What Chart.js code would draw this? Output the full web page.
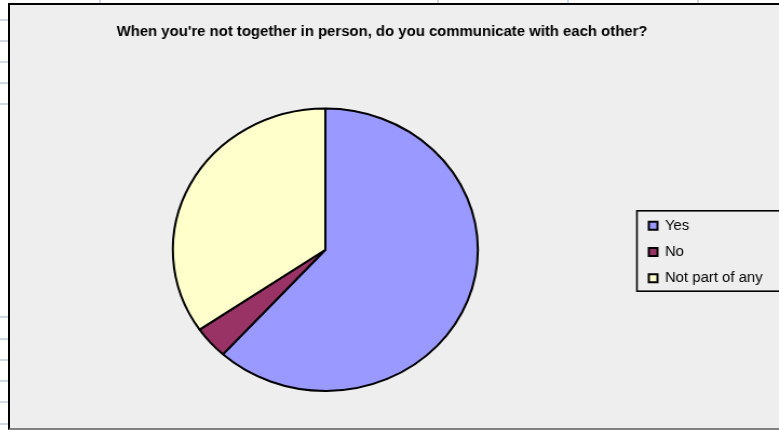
<!DOCTYPE html>
<html>
<head>
<meta charset="utf-8">
<script src="https://cdn.jsdelivr.net/npm/chart.js@4/dist/chart.umd.min.js"></script>
<style>
  html, body { margin: 0; padding: 0; background: #fff; overflow: hidden; }
  body { width: 779px; height: 430px; position: relative; }
  .grid-h { position: absolute; left: 0; width: 8px; height: 2px; background: #d0d7e5; }
  .grid-v { position: absolute; top: 0; width: 2px; height: 3px; background: #d0d7e5; }
  #frame {
    position: absolute; left: 8px; top: 3px; width: 775px; height: 423px;
    border-left: 2px solid #000; border-top: 2px solid #000; border-bottom: 2px solid #808080;
    background: #eeeeee; overflow: hidden;
  }
  /* the whole chart is a little wider than it is tall */
  #wrap {
    position: absolute; left: 0; top: 0; width: 712px; height: 423px;
    transform: scaleX(1.08); transform-origin: 0 0;
  }
</style>
</head>
<body>
<div id="frame"><div id="wrap"><canvas id="commChart"></canvas></div></div>
<script>
// answers to the survey question
const answers = ['Yes', 'No', 'Not part of any'];
const responses = [50, 3, 28];
const sliceColors = ['#9999ff', '#993366', '#ffffcc'];

const chartTitle = "When you're not together in person, do you communicate with each other?";

// spreadsheet cell lines peeking out round the chart
[19, 40, 61, 82, 103, 316, 338, 359, 380, 401, 423].forEach(y => {
  const d = document.createElement('div');
  d.className = 'grid-h';
  d.style.top = y + 'px';
  document.body.appendChild(d);
});
[99, 437, 567, 697].forEach(x => {
  const d = document.createElement('div');
  d.className = 'grid-v';
  d.style.left = x + 'px';
  document.body.appendChild(d);
});

// legend keeps a narrow slot in the layout but may draw out to the edge
const legendFrame = {
  id: 'legendFrame',
  afterLayout(chart) {
    const lg = chart.legend;
    lg.right = chart.width;
    lg.width = lg.right - lg.left;
  },
  // box round the legend, running off the right edge
  afterDraw(chart) {
    const boxes = chart.legend.legendHitBoxes;
    if (!boxes || !boxes.length) return;
    const first = boxes[0];
    const last = boxes[boxes.length - 1];
    const ctx = chart.ctx;
    ctx.save();
    ctx.strokeStyle = '#000';
    ctx.lineWidth = 1.6;
    const left = first.left - 11;
    const top = first.top - 8;
    const bottom = last.top + last.height + 6;
    ctx.strokeRect(left, top, chart.width + 20 - left, bottom - top);
    ctx.restore();
  }
};

const dataPie = {
  labels: answers,
  datasets: [{
    data: responses,
    backgroundColor: sliceColors,
    borderColor: '#000',
    borderWidth: 2
  }]
};

const configPie = {
  type: 'pie',
  data: dataPie,
  options: {
    responsive: true,
    maintainAspectRatio: false,
    animation: false,
    layout: { padding: { left: 5, right: 28, top: 0, bottom: 36 } },
    plugins: {
      title: {
        display: true,
        text: chartTitle,
        color: '#000',
        font: { family: 'Liberation Sans', size: 13.8, weight: 'bold' },
        padding: { top: 19, bottom: 67 }
      },
      legend: {
        position: 'right',
        maxWidth: 105,
        title: {
          display: true,
          text: '',
          font: { size: 10 },
          padding: { top: 0, bottom: 95 }
        },
        labels: {
          color: '#000',
          font: { family: 'Liberation Sans', size: 13.8 },
          boxWidth: 8,
          boxHeight: 8,
          padding: 12.5
        }
      },
      tooltip: { enabled: false }
    }
  },
  plugins: [legendFrame]
};

const myPieChart = new Chart(document.getElementById('commChart'), configPie);
</script>
</body>
</html>
